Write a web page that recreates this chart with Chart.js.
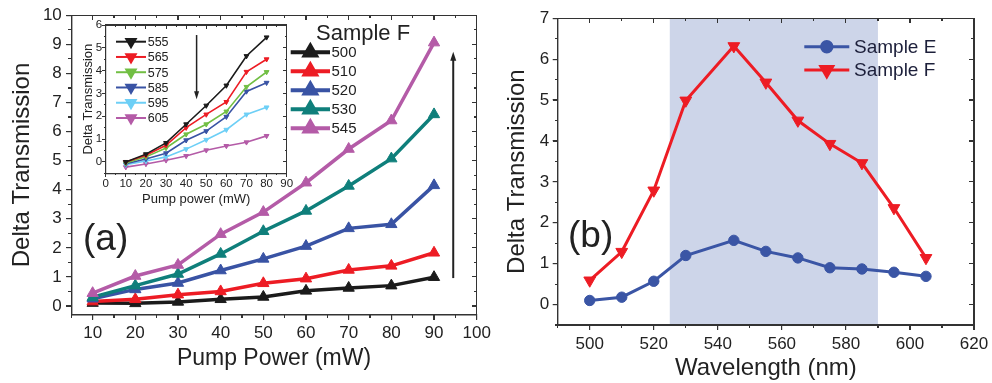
<!DOCTYPE html>
<html><head><meta charset="utf-8">
<script src="https://cdn.jsdelivr.net/npm/chart.js@4.4.1/dist/chart.umd.min.js"></script>
<style>
html,body{margin:0;padding:0;background:#fff;}
#wrap{position:relative;width:992px;height:383px;overflow:hidden;background:#fff;}
canvas{position:absolute;}
.fr{position:absolute;background:#333333;z-index:5;pointer-events:none;}
</style></head><body>
<div id="wrap">
<canvas id="cA" width="500" height="383" style="left:0;top:0;width:500px;height:383px"></canvas>
<canvas id="cB" width="502" height="383" style="left:496px;top:0;width:502px;height:383px"></canvas>
<canvas id="cI" width="237" height="200" style="left:60px;top:10px;width:237px;height:200px"></canvas>
</div>
<script>
// ---------- data: panel (a) ----------
const pumpPower = [10,20,30,40,50,60,70,80,90];
const mainSeriesLabels = ['500','510','520','530','545'];
const dt500 = [0.10,0.09,0.14,0.23,0.31,0.52,0.62,0.70,0.99];
const dt510 = [0.15,0.23,0.39,0.50,0.78,0.94,1.24,1.38,1.83];
const dt520 = [0.25,0.57,0.79,1.22,1.62,2.06,2.67,2.81,4.15];
const dt530 = [0.30,0.70,1.10,1.79,2.57,3.27,4.13,5.07,6.59];
const dt545 = [0.44,1.03,1.41,2.47,3.23,4.24,5.40,6.38,9.06];
const mainColors = ['#1b1b1b','#ed1c24','#3953a4','#0f7f7b','#b45ba7'];
const xTicksA = [10,20,30,40,50,60,70,80,90,100];
const yTicksA = [0,1,2,3,4,5,6,7,8,9,10];

// ---------- data: inset ----------
const insetPower = [10,20,30,40,50,60,70,80];
const insetSeriesLabels = ['555','565','575','585','595','605'];
const dt555 = [0.00,0.34,0.83,1.65,2.47,3.35,4.64,5.46];
const dt565 = [0.00,0.29,0.73,1.50,2.08,2.63,3.95,4.50];
const dt575 = [-0.05,0.22,0.61,1.21,1.65,2.21,3.29,3.94];
const dt585 = [-0.08,0.13,0.38,0.95,1.35,1.98,3.09,3.47];
const dt595 = [-0.12,0.04,0.22,0.56,0.97,1.41,2.08,2.39];
const dt605 = [-0.23,-0.09,0.07,0.26,0.51,0.70,0.86,1.14];
const insetColors = ['#1b1b1b','#ed1c24','#72bf44','#3953a4','#6dcff6','#b45ba7'];
const xTicksI = [0,10,20,30,40,50,60,70,80,90];
const yTicksI = [0,1,2,3,4,5,6];

// ---------- data: panel (b) ----------
const wavelengths = [500,510,520,530,545,555,565,575,585,595,605];
const sampleE = [0.10,0.18,0.57,1.20,1.57,1.30,1.14,0.90,0.87,0.79,0.69];
const sampleF = [0.59,1.29,2.79,4.99,6.32,5.43,4.50,3.93,3.46,2.36,1.14];
const bLabels = ['Sample E','Sample F'];
const bColors = ['#3a55a5','#ed1c24'];
const bandRange = [525,590];
const xTicksB = [500,520,540,560,580,600,620];
const yTicksB = [0,1,2,3,4,5,6,7];

// ---------- helpers ----------
const FF = "'Liberation Sans', Arial, sans-serif";
Chart.defaults.font.family = FF;
const TXT = '#222';
const AX = '#333333';
const pts = (xs, ys) => xs.map((x,i)=>({x, y: ys[i]}));
const setTicks = list => s => { s.ticks = list.map(v=>({value:v})); };
const gridOpt = (len, lw) => ({display:true, drawOnChartArea:false, drawTicks:true, tickLength:len, color:AX, tickColor:AX, lineWidth:lw});
const borderOpt = w => ({display:true, color:AX, width:w});

function tickSet(majorList, step, lo, hi){
  const out=[];
  const k0 = Math.ceil(lo/step - 1e-9);
  for (let k=k0; k*step<=hi+1e-9 && out.length<500; k++){
    const v = Math.round(k*step*1000)/1000;
    out.push({v:v, isMajor: majorList.some(t=>Math.abs(t-v)<1e-6)});
  }
  return out;
}
// axis frame and tick marks as thin page elements, placed from the chart's own scales
function overlayFrame(chart, offX, offY, o){
  const wrap = document.getElementById('wrap');
  const a = chart.chartArea, xs = chart.scales.x, ys = chart.scales.y;
  const fw = o.fw, tw = o.tw, w = a.right - a.left, h = a.bottom - a.top;
  const add = (l, t, ww, hh) => {
    const d = document.createElement('div');
    d.className = 'fr';
    d.style.left = (offX + l) + 'px'; d.style.top = (offY + t) + 'px';
    d.style.width = ww + 'px'; d.style.height = hh + 'px';
    wrap.appendChild(d);
  };
  add(a.left - fw/2, a.top - fw/2, w + fw, fw);
  add(a.left - fw/2, a.bottom - fw/2, w + fw, fw);
  add(a.left - fw/2, a.top - fw/2, fw, h + fw);
  add(a.right - fw/2, a.top - fw/2, fw, h + fw);
  tickSet(o.xMajor, o.xMinor, xs.min, xs.max).forEach(t=>{
    const p = xs.getPixelForValue(t.v), L = t.isMajor ? o.majLen : o.minLen;
    add(p - tw/2, a.bottom, tw, L);
    add(p - tw/2, a.top, tw, L);
  });
  tickSet(o.yMajor, o.yMinor, ys.min, ys.max).forEach(t=>{
    const p = ys.getPixelForValue(t.v), L = t.isMajor ? o.majLen : o.minLen;
    add(a.left - L, p - tw/2, L, tw);
    add(a.right - L, p - tw/2, L, tw);
  });
}
function arrow(ctx, x1, y1, x2, y2, headLen, headW, lw, color){
  const ang = Math.atan2(y2-y1, x2-x1);
  ctx.save();
  ctx.strokeStyle = color; ctx.fillStyle = color; ctx.lineWidth = lw;
  ctx.beginPath();
  ctx.moveTo(x1,y1);
  ctx.lineTo(x2 - Math.cos(ang)*headLen*0.8, y2 - Math.sin(ang)*headLen*0.8);
  ctx.stroke();
  ctx.beginPath();
  ctx.moveTo(x2,y2);
  ctx.lineTo(x2 - Math.cos(ang)*headLen + Math.sin(ang)*headW/2, y2 - Math.sin(ang)*headLen - Math.cos(ang)*headW/2);
  ctx.lineTo(x2 - Math.cos(ang)*headLen - Math.sin(ang)*headW/2, y2 - Math.sin(ang)*headLen + Math.cos(ang)*headW/2);
  ctx.closePath(); ctx.fill();
  ctx.restore();
}
function legendRow(ctx, o, label, color, y){
  ctx.save();
  ctx.strokeStyle = color; ctx.fillStyle = color; ctx.lineWidth = o.lw;
  ctx.beginPath(); ctx.moveTo(o.x0, y); ctx.lineTo(o.x1, y); ctx.stroke();
  Chart.helpers.drawPoint(ctx, {pointStyle:o.ps, rotation:o.rot, radius:o.r, borderWidth:1}, (o.x0+o.x1)/2, y);
  ctx.fillStyle = o.tc; ctx.font = o.font; ctx.textBaseline = 'middle'; ctx.textAlign = 'left';
  ctx.fillText(label, o.tx, y + 1);
  ctx.restore();
}
const common = {responsive:false, animation:false, devicePixelRatio:1, events:[],
  plugins:{legend:{display:false}, tooltip:{enabled:false}}};

// ---------- panel (a) ----------
const mainData = [dt500, dt510, dt520, dt530, dt545];
const chartA = new Chart(document.getElementById('cA'), {
  type:'line',
  data:{datasets: mainData.map((d,i)=>({
    label: mainSeriesLabels[i], data: pts(pumpPower, d),
    borderColor: mainColors[i], backgroundColor: mainColors[i],
    pointBackgroundColor: mainColors[i], pointBorderColor: mainColors[i],
    borderWidth: 3.5, pointStyle:'triangle', pointRadius: 6.5, pointBorderWidth: 1,
    tension: 0, order: 4 - i }))},
  options:{...common,
    layout:{padding:{top:15.3, right:23.3, left:0, bottom:0}},
    scales:{
      x:{type:'linear', min:5, max:100, afterBuildTicks:setTicks(xTicksA), afterFit:s=>{s.height=68.3;},
        grid:gridOpt(5,1.2), border:borderOpt(1.4),
        ticks:{font:{size:17}, color:TXT, padding:3.5, maxRotation:0, autoSkip:false},
        title:{display:true, text:'Pump Power (mW)', font:{size:23}, color:TXT, padding:{top:0,bottom:11}}},
      y:{type:'linear', min:-0.3, max:10, afterBuildTicks:setTicks(yTicksA), afterFit:s=>{s.width=71.3;},
        grid:gridOpt(5,1.2), border:borderOpt(1.4),
        ticks:{font:{size:17}, color:TXT, padding:4.5, autoSkip:false},
        title:{display:true, text:'Delta Transmission', font:{size:24}, color:TXT, padding:{top:8,bottom:0}}}
    }},
  plugins:[{id:'decoA',
    afterDraw(chart){
      const ctx = chart.ctx, x = chart.scales.x, y = chart.scales.y;
      arrow(ctx, x.getPixelForValue(94.5), y.getPixelForValue(0.96), x.getPixelForValue(94.5), y.getPixelForValue(8.75), 9, 6, 2, '#222');
      ctx.save();
      ctx.fillStyle = TXT; ctx.font = '37px ' + FF; ctx.textBaseline='alphabetic';
      ctx.fillText('(a)', 83, 250);
      ctx.font = '22px ' + FF;
      ctx.fillText('Sample F', 316, 39.5);
      ctx.restore();
      mainSeriesLabels.forEach((lab,i)=>legendRow(ctx,
        {x0:290.7, x1:330, lw:4, ps:'triangle', rot:0, r:6.5, tc:TXT, font:'15px '+FF, tx:331.5},
        lab, mainColors[i], 52.3 + i*19));
    }}]
});

// ---------- inset ----------
const insetData = [dt555, dt565, dt575, dt585, dt595, dt605];
const chartI = new Chart(document.getElementById('cI'), {
  type:'line',
  data:{datasets: insetData.map((d,i)=>({
    label: insetSeriesLabels[i], data: pts(insetPower, d),
    borderColor: insetColors[i], backgroundColor: insetColors[i],
    pointBackgroundColor: insetColors[i], pointBorderColor: insetColors[i],
    borderWidth: 1.6, pointStyle:'triangle', pointRotation:180, pointRadius: 2.8, pointBorderWidth: 1,
    tension: 0 }))},
  options:{...common,
    layout:{padding:{top:15, right:10.3, left:0, bottom:0}},
    scales:{
      x:{type:'linear', min:0, max:90, afterBuildTicks:setTicks(xTicksI), afterFit:s=>{s.height=36.7;},
        grid:gridOpt(3.5,1), border:borderOpt(1.2),
        ticks:{font:{size:11.5}, color:TXT, padding:0, maxRotation:0, autoSkip:false},
        title:{display:true, text:'Pump power (mW)', font:{size:13}, color:TXT, padding:{top:0,bottom:2.9}}},
      y:{type:'linear', min:-0.5, max:6, afterBuildTicks:setTicks(yTicksI), afterFit:s=>{s.width=45.7;},
        grid:gridOpt(3.5,1), border:borderOpt(1.2),
        ticks:{font:{size:11.5}, color:TXT, padding:0, autoSkip:false},
        title:{display:true, text:'Delta Transmission', font:{size:13}, color:TXT, padding:{top:20.5,bottom:0}}}
    }},
  plugins:[{id:'decoI',
    afterDraw(chart){
      const ctx = chart.ctx, x = chart.scales.x, y = chart.scales.y;
      arrow(ctx, x.getPixelForValue(45.2), y.getPixelForValue(5.56), x.getPixelForValue(45.2), y.getPixelForValue(2.75), 8, 5, 1.5, '#222');
      insetSeriesLabels.forEach((lab,i)=>legendRow(ctx,
        {x0:56, x1:86, lw:2, ps:'triangle', rot:180, r:5.5, tc:TXT, font:'12.5px '+FF, tx:87.7},
        lab, insetColors[i], 31.7 + i*15.26));
    }}]
});

// ---------- panel (b) ----------
const chartB = new Chart(document.getElementById('cB'), {
  type:'line',
  data:{datasets:[
    {label:bLabels[0], data:pts(wavelengths, sampleE), borderColor:bColors[0], backgroundColor:bColors[0],
     pointBackgroundColor:bColors[0], pointBorderColor:bColors[0], borderWidth:3, pointStyle:'circle',
     pointRadius:5.2, pointBorderWidth:1, tension:0, order:1},
    {label:bLabels[1], data:pts(wavelengths, sampleF), borderColor:bColors[1], backgroundColor:bColors[1],
     pointBackgroundColor:bColors[1], pointBorderColor:bColors[1], borderWidth:3, pointStyle:'triangle',
     pointRotation:180, pointRadius:6.8, pointBorderWidth:1, tension:0, order:0}
  ]},
  options:{...common,
    layout:{padding:{top:18.3, right:24, left:0, bottom:0}},
    scales:{
      x:{type:'linear', min:490, max:620, afterBuildTicks:setTicks(xTicksB), afterFit:s=>{s.height=58;},
        grid:gridOpt(5,1.2), border:borderOpt(1.4),
        ticks:{font:{size:17}, color:TXT, padding:4.5, maxRotation:0, autoSkip:false},
        title:{display:true, text:'Wavelength (nm)', font:{size:24}, color:TXT, padding:{top:0,bottom:0}}},
      y:{type:'linear', min:-0.5, max:7, afterBuildTicks:setTicks(yTicksB), afterFit:s=>{s.width=61.7;},
        grid:gridOpt(5,1.2), border:borderOpt(1.4),
        ticks:{font:{size:17}, color:TXT, padding:3.5, autoSkip:false},
        title:{display:true, text:'Delta Transmission', font:{size:24}, color:TXT, padding:{top:7,bottom:0}}}
    }},
  plugins:[{id:'decoB',
    beforeDatasetsDraw(chart){
      const ctx = chart.ctx, a = chart.chartArea, x = chart.scales.x;
      const x0 = x.getPixelForValue(bandRange[0]), x1 = x.getPixelForValue(bandRange[1]);
      ctx.save(); ctx.fillStyle = '#cdd5e9'; ctx.fillRect(x0, a.top, x1-x0, a.bottom-a.top); ctx.restore();
    },
    afterDraw(chart){
      const ctx = chart.ctx;
      ctx.save();
      ctx.fillStyle = TXT; ctx.font = '37px ' + FF; ctx.textBaseline='alphabetic';
      ctx.fillText('(b)', 72, 247.3);
      ctx.restore();
      legendRow(ctx, {x0:308.3, x1:353.3, lw:3, ps:'circle', rot:0, r:5.2, tc:'#1c1f3a', font:'19px '+FF, tx:358}, bLabels[0], bColors[0], 46.7);
      legendRow(ctx, {x0:308.3, x1:353.3, lw:3, ps:'triangle', rot:180, r:6.8, tc:'#1c1f3a', font:'19px '+FF, tx:358}, bLabels[1], bColors[1], 70);
    }}]
});

// frames and tick marks placed from each chart's scales
overlayFrame(chartA, 0, 0, {fw:1.4, tw:1.2, majLen:5, minLen:3, xMajor:xTicksA, xMinor:5, yMajor:yTicksA, yMinor:0.5});
overlayFrame(chartI, 60, 10, {fw:1.2, tw:1, majLen:3.5, minLen:2, xMajor:xTicksI, xMinor:5, yMajor:yTicksI, yMinor:0.5});
overlayFrame(chartB, 496, 0, {fw:1.4, tw:1.2, majLen:5, minLen:3, xMajor:xTicksB, xMinor:10, yMajor:yTicksB, yMinor:0.5});
</script>
</body></html>
